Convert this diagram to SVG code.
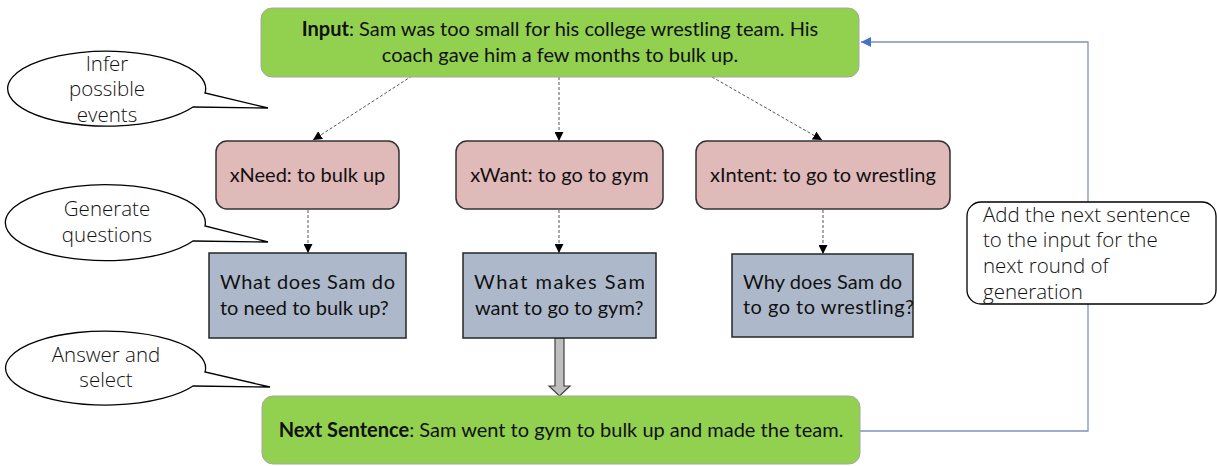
<svg xmlns="http://www.w3.org/2000/svg" width="1217" height="466" viewBox="0 0 1217 466">
<defs>
<style>
.green{fill:#92D050;stroke:#A6A6A6;stroke-width:1}
.pink{fill:#E0B9B9;stroke:#333333;stroke-width:1.5}
.blue{fill:#ADB9CA;stroke:#262626;stroke-width:1.5}
.bub{fill:#FFFFFF;stroke:#000000;stroke-width:1.3}
.t{font-family:Lato,"Open Sans",sans-serif;font-size:20px;fill:#111111}
.b{font-weight:bold}
.lt{font-family:"Open Sans","Noto Sans",sans-serif;font-weight:300;font-size:20.5px;fill:#111111}
.dash{fill:none;stroke:#555555;stroke-width:1;stroke-dasharray:3 2}
.fb{fill:none;stroke:#7F93BC;stroke-width:1.3}
</style>
<marker id="ah" viewBox="0 0 10 10" refX="10" refY="5" markerWidth="9" markerHeight="9" markerUnits="userSpaceOnUse" orient="auto">
<path d="M0,0 L10,5 L0,10 Z" fill="#000000"/>
</marker>
<marker id="ahb" viewBox="0 0 10 10" refX="10" refY="5" markerWidth="10" markerHeight="10" markerUnits="userSpaceOnUse" orient="auto">
<path d="M0,0 L10,5 L0,10 Z" fill="#4472C4"/>
</marker>
</defs>
<rect width="1217" height="466" fill="#FFFFFF"/>

<g id="connectors">
<path class="dash" d="M412,76 L313,140" marker-end="url(#ah)"/>
<path class="dash" d="M559,77 L559,141" marker-end="url(#ah)"/>
<path class="dash" d="M712,77 L822,140" marker-end="url(#ah)"/>
<path class="dash" d="M308,210 L308,253" marker-end="url(#ah)"/>
<path class="dash" d="M559,210 L559,253" marker-end="url(#ah)"/>
<path class="dash" d="M823,210 L823,254" marker-end="url(#ah)"/>
<path class="fb" d="M860,431 H1088 V42 H861" marker-end="url(#ahb)"/>
<path id="block-arrow" d="M555,338 H564 V386 H570 L559.5,396 L549,386 H555 Z" fill="#BFBFBF" stroke="#404040" stroke-width="1.2"/>
</g>

<g id="input">
<rect class="green" x="261" y="8" width="598" height="69" rx="11"/>
<text class="t" x="560" y="36" text-anchor="middle"><tspan class="b">Input</tspan>: Sam was too small for his college wrestling team. His</text>
<text class="t" x="560" y="62" text-anchor="middle">coach gave him a few months to bulk up.</text>
</g>

<g id="xneed">
<rect class="pink" x="216" y="141" width="183" height="68" rx="11"/>
<text class="t" x="307.5" y="182" text-anchor="middle">xNeed: to bulk up</text>
</g>
<g id="xwant">
<rect class="pink" x="456" y="141" width="207" height="68" rx="11"/>
<text class="t" x="559.5" y="182" text-anchor="middle">xWant: to go to gym</text>
</g>
<g id="xintent">
<rect class="pink" x="696" y="141" width="254" height="68" rx="11"/>
<text class="t" x="823" y="182" text-anchor="middle">xIntent: to go to wrestling</text>
</g>

<g id="q1">
<rect class="blue" x="209" y="253" width="197" height="85"/>
<text class="t" x="220" y="289" textLength="175" lengthAdjust="spacing">What does Sam do</text>
<text class="t" x="220" y="315">to need to bulk up?</text>
</g>
<g id="q2">
<rect class="blue" x="463" y="253" width="193" height="85"/>
<text class="t" x="474" y="289" textLength="171" lengthAdjust="spacing">What makes Sam</text>
<text class="t" x="475" y="315">want to go to gym?</text>
</g>
<g id="q3">
<rect class="blue" x="732" y="254" width="181" height="83"/>
<text class="t" x="743" y="289" textLength="159" lengthAdjust="spacing">Why does Sam do</text>
<text class="t" x="743" y="314" textLength="171" lengthAdjust="spacing">to go to wrestling?</text>
</g>

<g id="next-sentence">
<rect class="green" x="262" y="396" width="598" height="68" rx="11"/>
<text class="t" x="561" y="437" text-anchor="middle"><tspan class="b">Next Sentence</tspan>: Sam went to gym to bulk up and made the team.</text>
</g>

<g id="bubble-infer">
<path class="bub" d="M205,93 A99,37.5 0 1 0 193,107 L268,108 Z"/>
<text class="lt" x="107" y="71" text-anchor="middle">Infer</text>
<text class="lt" x="107" y="96" text-anchor="middle">possible</text>
<text class="lt" x="107" y="122" text-anchor="middle">events</text>
</g>
<g id="bubble-generate">
<path class="bub" d="M205,226 A100,38 0 1 0 193,241 L268,242 Z"/>
<text class="lt" x="107" y="216" text-anchor="middle">Generate</text>
<text class="lt" x="107" y="242" text-anchor="middle">questions</text>
</g>
<g id="bubble-answer">
<path class="bub" d="M205,372 A100,37 0 1 0 193,386 L270,387 Z"/>
<text class="lt" x="106" y="362" text-anchor="middle">Answer and</text>
<text class="lt" x="106" y="387" text-anchor="middle">select</text>
</g>

<g id="note">
<rect x="967" y="202" width="249" height="102" rx="14" fill="#FFFFFF" stroke="#000000" stroke-width="1.3"/>
<text class="lt" x="983" y="222">Add the next sentence</text>
<text class="lt" x="983" y="247">to the input for the</text>
<text class="lt" x="983" y="273">next round of</text>
<text class="lt" x="983" y="299">generation</text>
</g>
</svg>
